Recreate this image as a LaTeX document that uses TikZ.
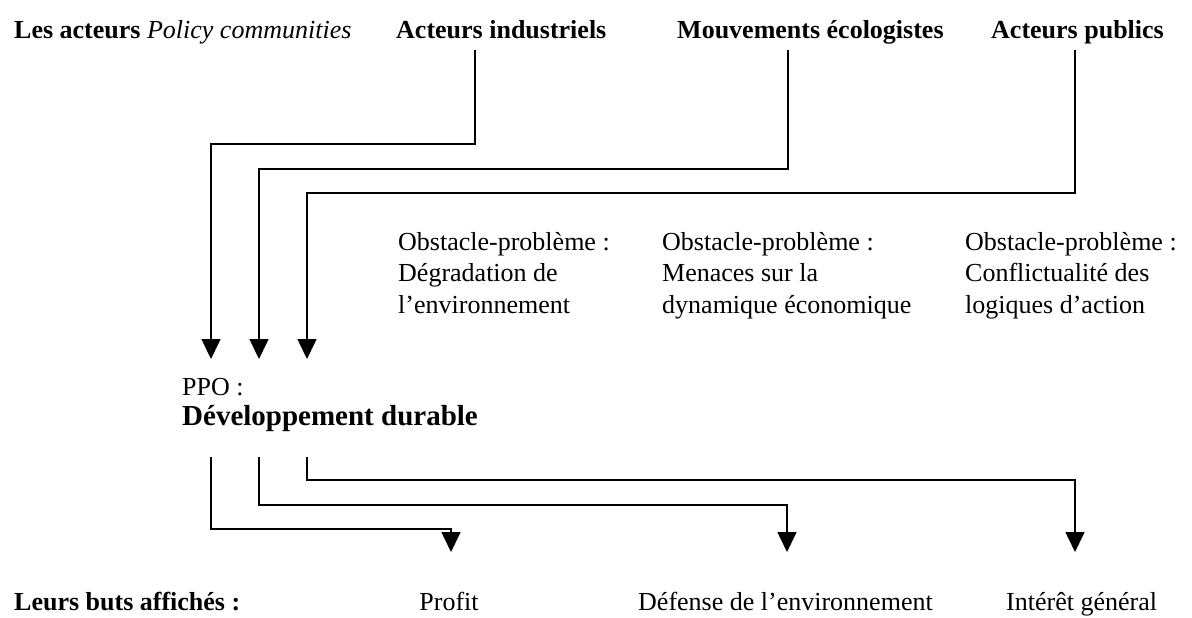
\documentclass[tikz,border=0pt]{standalone}
\usepackage{fontspec}
\setmainfont{Liberation Serif}
\usetikzlibrary{arrows.meta}
\begin{document}
\begin{tikzpicture}[x=1pt,y=-1pt,
  txt/.style={anchor=base west,inner sep=0pt,font=\fontsize{26}{31.5}\selectfont},
  ttl/.style={anchor=base west,inner sep=0pt,font=\fontsize{26}{31.5}\selectfont\bfseries},
  obst/.style={anchor=base west,inner sep=0pt,align=left,font=\fontsize{26}{31.5}\selectfont},
  conn/.style={line width=1.6pt,-{Triangle[width=19pt,length=20pt]}}]
\useasboundingbox (0,0) rectangle (1192,618);
\fill[white] (0,0) rectangle (1192,618);

% top row
\node[ttl] (lesacteurs) at (14,39) {Les acteurs \textmd{\itshape Policy communities}};
\node[ttl] (ind) at (396,39) {Acteurs industriels};
\node[ttl] (mov) at (677,39) {Mouvements écologistes};
\node[ttl] (pub) at (991,39) {Acteurs publics};

% obstacles (anchor = baseline of the last line)
\node[obst] (ob1) at (398,313) {Obstacle-problème :\\Dégradation de\\l’environnement};
\node[obst] (ob2) at (662,313) {Obstacle-problème :\\Menaces sur la\\dynamique économique};
\node[obst] (ob3) at (965,313) {Obstacle-problème :\\Conflictualité des\\logiques d’action};

% PPO
\node[txt] (ppo) at (182,395) {PPO :};
\node[anchor=base west,inner sep=0pt,font=\fontsize{29}{34}\selectfont\bfseries] (dd) at (182,425) {Développement durable};

% bottom row
\node[ttl] (buts) at (14,610) {Leurs buts affichés :};
\node[txt,anchor=base] (profit) at (449,610) {Profit};
\node[txt] (defense) at (638,610) {Défense de l’environnement};
\node[txt] (interet) at (1006,610) {Intérêt général};

% connector end points
\coordinate (ind-out) at (475,50);
\coordinate (mov-out) at (788,50);
\coordinate (pub-out) at (1075,50);
\coordinate (in1) at (211,359);
\coordinate (in2) at (259,359);
\coordinate (in3) at (307,359);
\coordinate (out1) at (211,457);
\coordinate (out2) at (259,457);
\coordinate (out3) at (307,457);
\coordinate (g1) at (451,552);
\coordinate (g2) at (787,552);
\coordinate (g3) at (1075,552);

% actors to PPO
\draw[conn] (ind-out) -- ++(0,94) -| (in1);
\draw[conn] (mov-out) -- ++(0,119) -| (in2);
\draw[conn] (pub-out) -- ++(0,143) -| (in3);

% PPO to goals
\draw[conn] (out1) -- ++(0,72) -| (g1);
\draw[conn] (out2) -- ++(0,48) -| (g2);
\draw[conn] (out3) -- ++(0,23) -| (g3);
\end{tikzpicture}
\end{document}
